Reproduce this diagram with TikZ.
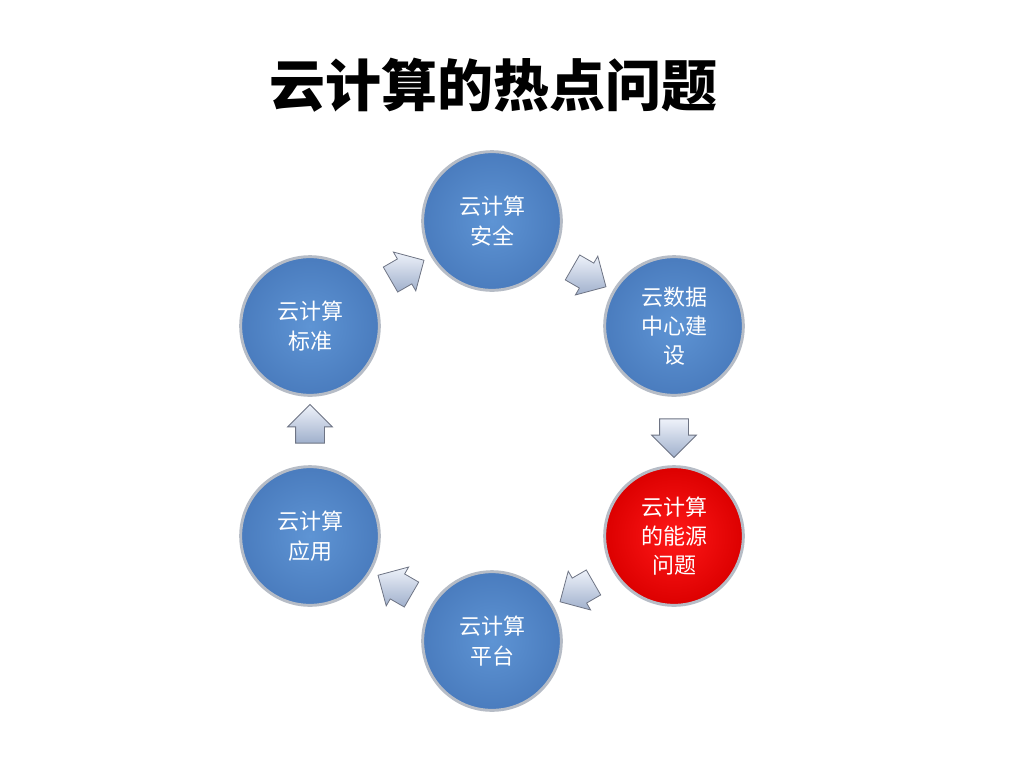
\documentclass[tikz,border=0pt]{standalone}
\usepackage{fontspec}
\newfontfamily\cjk{Noto Sans CJK SC}
\usetikzlibrary{shapes.arrows}
\definecolor{rim}{RGB}{182,188,198}
\definecolor{ballin}{RGB}{94,148,212}
\definecolor{ballout}{RGB}{74,124,190}
\definecolor{redin}{RGB}{255,24,24}
\definecolor{redout}{RGB}{220,0,0}
\definecolor{arrowline}{RGB}{110,116,132}
\definecolor{arrowlight}{RGB}{238,242,250}
\definecolor{arrowdark}{RGB}{160,176,204}
\begin{document}
\begin{tikzpicture}[x=0.75pt, y=-0.75pt,
    ball/.style={circle, draw=rim, line width=2.2pt, minimum size=104pt, inner sep=0pt,
      align=center, text=white, font=\cjk\fontsize{16.5}{22}\selectfont,
      inner color=ballin, outer color=ballout},
    hot/.style={ball, inner color=redin, outer color=redout},
    flow/.style={single arrow, draw=arrowline, line width=0.6pt, inner xsep=0pt, inner ysep=10.5pt,
      minimum height=29pt, single arrow head extend=6pt,
      top color=arrowlight, bottom color=arrowdark, sloped, allow upside down}]
    \fill[white] (0,0) rectangle (1024,768);
    \useasboundingbox (0,0) rectangle (1024,768);

    \node[font=\cjk\bfseries\fontsize{42}{50}\selectfont] (title) at (493,85) {云计算的热点问题};

    \node[ball] (safe) at (492,221) {云计算\\安全};
    \node[ball] (dc) at (674,326) {云数据\\中心建\\设};
    \node[hot] (energy) at (674,536) {云计算\\的能源\\问题};
    \node[ball] (platform) at (492,641) {云计算\\平台};
    \node[ball] (app) at (310,536) {云计算\\应用};
    \node[ball] (std) at (310,326) {云计算\\标准};

    \path (std) -- node[flow] (a1) {} (safe);
    \path (safe) -- node[flow] (a2) {} (dc);
    \path (dc) -- node[flow] (a3) {} (energy);
    \path (energy) -- node[flow] (a4) {} (platform);
    \path (platform) -- node[flow] (a5) {} (app);
    \path (app) -- node[flow] (a6) {} (std);
\end{tikzpicture}
\end{document}
